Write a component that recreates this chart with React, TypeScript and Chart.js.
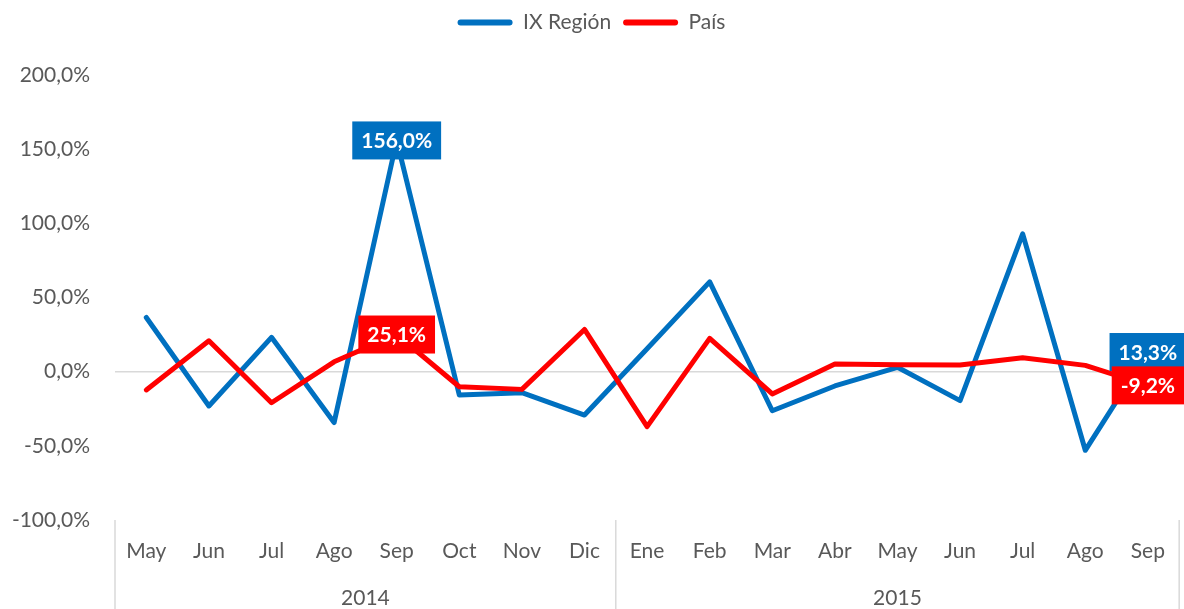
import React, { useEffect, useRef } from "react";
import { Chart, registerables } from "chart.js";

Chart.register(...registerables);

const months = ["May", "Jun", "Jul", "Ago", "Sep", "Oct", "Nov", "Dic", "Ene", "Feb", "Mar", "Abr", "May", "Jun", "Jul", "Ago", "Sep"];
const years = ["2014", "2015"];
const monthsPerYear = [8, 9];
const regionValues = [36.6, -23.1, 23.2, -34.3, 156.0, -15.7, -14.1, -29.2, 15.5, 60.6, -26.3, -9.6, 3.0, -19.5, 93.0, -53.0, 13.3];
const paisValues = [-12.3, 20.9, -20.9, 6.7, 25.1, -10.1, -11.9, 28.5, -37.0, 22.5, -15.0, 5.2, 4.7, 4.6, 9.4, 4.3, -9.2];
const labelledIndices = [4, 16];
const seriesNames = ["IX Región", "País"];
const seriesColors = ["#0070C0", "#FF0000"];

const FONT = "Lato";
const TEXT_COLOR = "#595959";
const LINE_GRAY = "#D9D9D9";

const fmt = (v: number) => v.toFixed(1).replace(".", ",") + "%";

const valueLabelPlugin = {
  id: "valueLabels",
  afterDatasetsDraw(chart: any) {
    const ctx = chart.ctx;
    ctx.save();
    chart.data.datasets.forEach((ds: any, di: number) => {
      const meta = chart.getDatasetMeta(di);
      labelledIndices.forEach((i) => {
        const pt = meta.data[i];
        if (!pt) return;
        const text = fmt(ds.data[i]);
        ctx.font = `bold 21px ${FONT}`;
        const w = ctx.measureText(text).width + 18;
        const h = 38;
        ctx.fillStyle = ds.borderColor;
        ctx.fillRect(pt.x - w / 2, pt.y - h / 2, w, h);
        ctx.fillStyle = "#FFFFFF";
        ctx.textAlign = "center";
        ctx.textBaseline = "middle";
        ctx.fillText(text, pt.x, pt.y + 1);
      });
    });
    ctx.restore();
  },
};

const yearAxisPlugin = {
  id: "yearAxis",
  afterDraw(chart: any) {
    const ctx = chart.ctx;
    const xs = chart.scales.x;
    const area = chart.chartArea;
    const top = area.bottom;
    const bottom = chart.height;
    const boundaries: number[] = [area.left];
    let idx = 0;
    monthsPerYear.forEach((n, gi) => {
      idx += n;
      if (gi < monthsPerYear.length - 1) {
        boundaries.push((xs.getPixelForTick(idx - 1) + xs.getPixelForTick(idx)) / 2);
      } else {
        boundaries.push(area.right);
      }
    });
    ctx.save();
    ctx.strokeStyle = LINE_GRAY;
    ctx.lineWidth = 1.5;
    boundaries.forEach((bx) => {
      ctx.beginPath();
      ctx.moveTo(bx, top);
      ctx.lineTo(bx, bottom);
      ctx.stroke();
    });
    ctx.fillStyle = TEXT_COLOR;
    ctx.font = `21px ${FONT}`;
    ctx.textAlign = "center";
    ctx.textBaseline = "middle";
    years.forEach((y, i) => {
      const cx = (boundaries[i] + boundaries[i + 1]) / 2;
      ctx.fillText(y, cx, 598);
    });
    ctx.restore();
  },
};

export default function App() {
  const canvasRef = useRef<HTMLCanvasElement>(null);

  useEffect(() => {
    if (!canvasRef.current) return;
    Chart.defaults.font.family = FONT;
    const chart = new Chart(canvasRef.current, {
      type: "line",
      data: {
        labels: months,
        datasets: [
          {
            label: seriesNames[0],
            data: regionValues,
            borderColor: seriesColors[0],
            backgroundColor: seriesColors[0],
            borderWidth: 5,
            pointRadius: 0,
            pointHoverRadius: 0,
            tension: 0,
            borderCapStyle: "round",
            borderJoinStyle: "round",
            order: 1,
          },
          {
            label: seriesNames[1],
            data: paisValues,
            borderColor: seriesColors[1],
            backgroundColor: seriesColors[1],
            borderWidth: 5,
            pointRadius: 0,
            pointHoverRadius: 0,
            tension: 0,
            borderCapStyle: "round",
            borderJoinStyle: "round",
            order: 0,
          },
        ],
      },
      options: {
        responsive: false,
        animation: false,
        layout: { padding: { left: 0, right: 1, top: 0, bottom: 0 } },
        plugins: {
          tooltip: { enabled: false },
          legend: {
            display: true,
            position: "top",
            labels: {
              font: { family: FONT, size: 21 },
              color: TEXT_COLOR,
              boxWidth: 55,
              boxHeight: 6,
              useBorderRadius: true,
              borderRadius: 3,
              padding: 12,
              sort: (a: any, b: any) => a.datasetIndex - b.datasetIndex,
              generateLabels: (chart: any) =>
                Chart.defaults.plugins.legend.labels
                  .generateLabels(chart)
                  .map((l: any) => ({ ...l, lineWidth: 0, fillStyle: l.strokeStyle })),
            },
          },
          subtitle: {
            display: true,
            text: "",
            weight: 500,
            font: { size: 1 },
            padding: { top: 0, bottom: 31 },
          } as any,
        },
        scales: {
          x: {
            type: "category",
            offset: true,
            grid: { display: false, drawTicks: false },
            border: { display: false },
            ticks: {
              font: { family: FONT, size: 21 },
              color: TEXT_COLOR,
              padding: 19,
              maxRotation: 0,
              autoSkip: false,
            },
            afterFit: (scale: any) => {
              scale.height = 89;
            },
          },
          y: {
            min: -100,
            max: 200,
            grid: {
              drawTicks: false,
              lineWidth: 1.5,
              color: (c: any) => (c.tick && c.tick.value === 0 ? LINE_GRAY : "rgba(0,0,0,0)"),
            },
            border: { display: false },
            ticks: {
              stepSize: 50,
              font: { family: FONT, size: 21 },
              color: TEXT_COLOR,
              padding: 25,
              callback: (v: any) => fmt(Number(v)),
            },
            afterFit: (scale: any) => {
              scale.width = 115;
            },
          },
        },
      },
      plugins: [valueLabelPlugin, yearAxisPlugin],
    });
    return () => chart.destroy();
  }, []);

  return (
    <div style={{ position: "fixed", left: 0, top: 0, width: 1184, height: 609, background: "#fff" }}>
      <canvas ref={canvasRef} width={1184} height={609} style={{ display: "block" }} />
    </div>
  );
}
